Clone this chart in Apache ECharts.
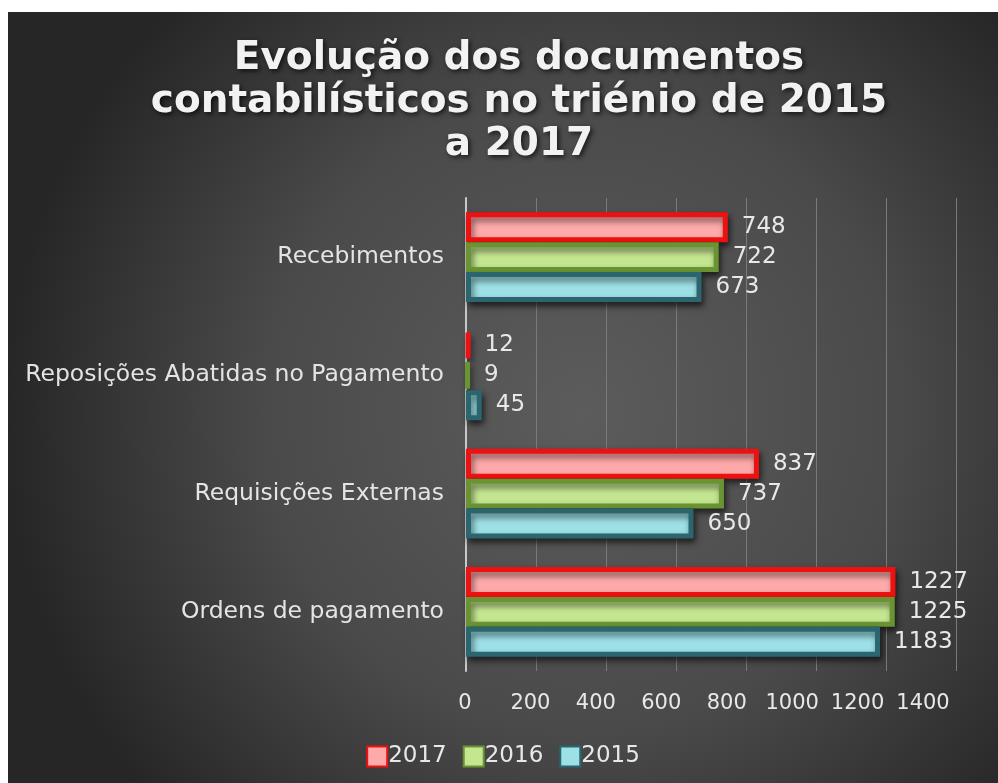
<!DOCTYPE html>
<html>
<head>
<meta charset="utf-8">
<script src="https://cdn.jsdelivr.net/npm/echarts@6/dist/echarts.min.js"></script>
<style>
  html, body { margin: 0; padding: 0; background: #ffffff; }
  #main { position: absolute; left: 8px; top: 12px; width: 990px; height: 771px; }
</style>
</head>
<body>
<div id="main"></div>
<script>
// data, bottom category first (echarts draws category y axis from bottom)
var categories = ['Ordens de pagamento', 'Requisições Externas', 'Reposições Abatidas no Pagamento', 'Recebimentos'];
var years = ['2017', '2016', '2015'];
var values2017 = [1227, 837, 12, 748];
var values2016 = [1225, 737, 9, 722];
var values2015 = [1183, 650, 45, 673];
var xTicks = [0, 200, 400, 600, 800, 1000, 1200, 1400];

var font = 'DejaVu Sans, Verdana, sans-serif';

function barSeries(name, data, fill, border) {
    return {
        name: name,
        type: 'bar',
        data: data,
        barGap: '0%',
        barCategoryGap: '24%',
        itemStyle: {
            color: fill,
            borderColor: border,
            borderWidth: 5,
            shadowColor: 'rgba(0,0,0,0.55)',
            shadowBlur: 6,
            shadowOffsetX: 2,
            shadowOffsetY: 4
        },
        label: {
            show: true,
            position: 'right',
            distance: 14,
            color: '#e8e8e8',
            fontFamily: font,
            fontSize: 23
        }
    };
}

var myChart = echarts.init(document.getElementById('main'));
var option = {
    animation: false,
    backgroundColor: {
        type: 'radial',
        x: 0.58, y: 0.52, r: 0.75,
        colorStops: [
            { offset: 0, color: '#5c5c5c' },
            { offset: 0.55, color: '#4a4a4a' },
            { offset: 1, color: '#262626' }
        ]
    },
    title: {
        text: 'Evolução dos documentos\ncontabilísticos no triénio de 2015\na 2017',
        left: 506,
        top: 20,
        textAlign: 'center',
        textStyle: {
            color: '#f2f2f2',
            fontFamily: font,
            fontWeight: 'bold',
            fontSize: 39,
            lineHeight: 43,
            textShadowColor: 'rgba(0,0,0,0.7)',
            textShadowBlur: 5,
            textShadowOffsetX: 2,
            textShadowOffsetY: 2
        }
    },
    legend: {
        data: years,
        bottom: 10,
        left: 'center',
        icon: 'rect',
        itemWidth: 20,
        itemHeight: 20,
        itemGap: 16,
        textStyle: { color: '#e8e8e8', fontFamily: font, fontSize: 23, padding: [0, 0, 0, -4] }
    },
    grid: [
        { left: 458, right: 42, top: 186, bottom: 112 },
        // second grid only carries the x tick labels, which sit slightly left of the gridlines
        { left: 457, right: 75, top: 186, bottom: 112 }
    ],
    xAxis: [{
        type: 'value',
        min: 0,
        max: 1400,
        interval: 200,
        axisLine: { show: false },
        axisTick: { show: false },
        axisLabel: { show: false },
        splitLine: { lineStyle: { color: '#7a7a7a', width: 1 } }
    }, {
        type: 'value',
        gridIndex: 1,
        min: 0,
        max: 1400,
        interval: 200,
        axisLine: { show: false },
        axisTick: { show: false },
        splitLine: { show: false },
        axisLabel: {
            color: '#e8e8e8',
            fontFamily: font,
            fontSize: 21,
            margin: 22,
            formatter: function (v) { return xTicks.indexOf(v) >= 0 ? String(v) : ''; }
        }
    }],
    yAxis: [{
        type: 'category',
        data: categories,
        axisLine: { lineStyle: { color: '#c8c8c8', width: 2 } },
        axisTick: { show: false },
        axisLabel: {
            color: '#e4e4e4',
            fontFamily: font,
            fontSize: 23.5,
            margin: 22
        }
    }, {
        type: 'category',
        gridIndex: 1,
        data: categories,
        show: false
    }],
    series: [
        barSeries('2017', values2017, '#ffaaaa', '#ee1111'),
        barSeries('2016', values2016, '#c4e690', '#6a9432'),
        barSeries('2015', values2015, '#9de0e6', '#2b6570')
    ]
};
myChart.setOption(option);
</script>
</body>
</html>
